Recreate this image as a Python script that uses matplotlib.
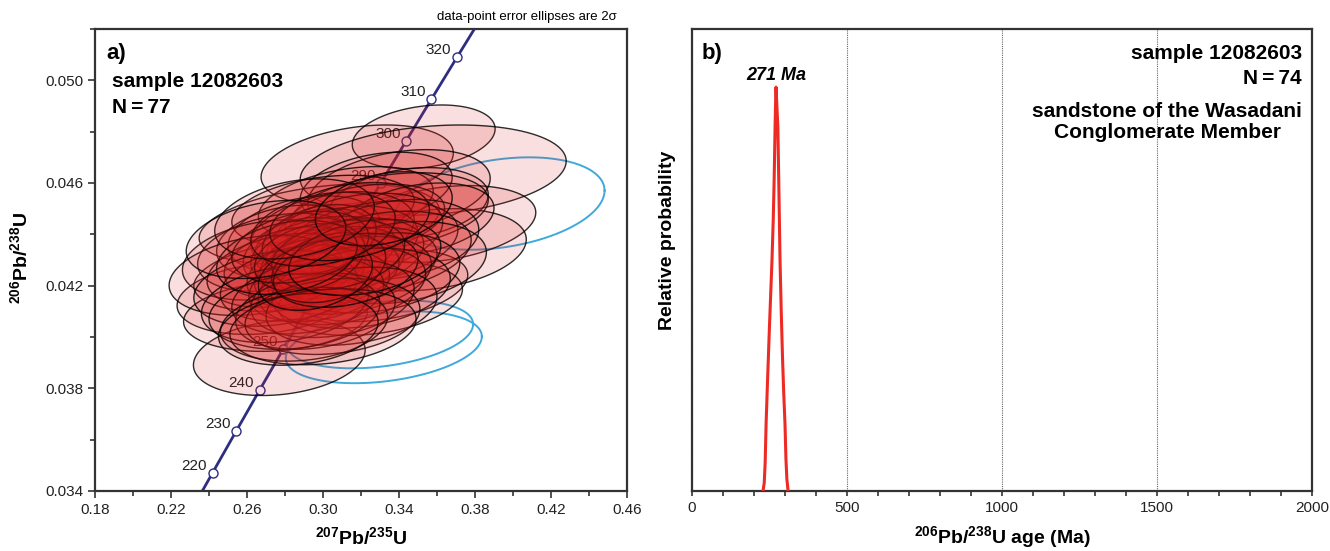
import numpy as np
import matplotlib
matplotlib.use("Agg")
import matplotlib.pyplot as plt
from matplotlib.ticker import MultipleLocator

plt.rcParams["font.family"] = ["Liberation Sans", "DejaVu Sans"]
plt.rcParams["mathtext.fontset"] = "custom"
plt.rcParams["mathtext.rm"] = "Liberation Sans"
plt.rcParams["mathtext.bf"] = "Liberation Sans:bold"
plt.rcParams["mathtext.it"] = "Liberation Sans:italic"

# concordia (age in Ma, 207Pb/235U, 206Pb/238U)
conc_age = [210, 220, 230, 240, 250, 260, 270, 280, 290, 300, 310, 320, 330]
conc_x = [0.22976, 0.24193, 0.25422, 0.26664, 0.27917, 0.29183, 0.30462,
          0.31753, 0.33057, 0.34374, 0.35704, 0.37047, 0.38403]
conc_y = [0.033113, 0.034717, 0.036323, 0.037932, 0.039543, 0.041157, 0.042773,
          0.044392, 0.046013, 0.047637, 0.049263, 0.050892, 0.052524]

# concordant analyses (2 sigma ellipses drawn from 1 sigma errors)
red_x = [0.318, 0.353, 0.358, 0.277, 0.298, 0.269, 0.275, 0.283, 0.362, 0.356,
         0.330, 0.325, 0.340, 0.328, 0.312, 0.345, 0.335, 0.300, 0.322, 0.350,
         0.290, 0.305, 0.318, 0.282, 0.296, 0.310, 0.325, 0.338, 0.276, 0.288,
         0.300, 0.313, 0.330, 0.270, 0.284, 0.295, 0.306, 0.318, 0.340, 0.279,
         0.291, 0.302, 0.314, 0.327, 0.265, 0.286, 0.298, 0.310, 0.275, 0.320,
         0.292, 0.305, 0.280, 0.315, 0.296, 0.285, 0.305, 0.290, 0.300, 0.287,
         0.298, 0.308, 0.293, 0.303, 0.288, 0.312, 0.296, 0.281, 0.322, 0.300,
         0.314, 0.285, 0.270, 0.332]
red_y = [0.0467, 0.0478, 0.0465, 0.0392, 0.0444, 0.0415, 0.0408, 0.0424, 0.0444, 0.0434,
         0.0420, 0.0415, 0.0457, 0.0458, 0.0452, 0.0452, 0.0449, 0.0449, 0.0446, 0.0446,
         0.0440, 0.0441, 0.0440, 0.0437, 0.0436, 0.0436, 0.0437, 0.0438, 0.0433, 0.0433,
         0.0433, 0.0432, 0.0433, 0.0430, 0.0429, 0.0429, 0.0429, 0.0428, 0.0429, 0.0426,
         0.0425, 0.0425, 0.0424, 0.0425, 0.0424, 0.0421, 0.0420, 0.0420, 0.0419, 0.0419,
         0.0416, 0.0415, 0.0413, 0.0412, 0.0410, 0.0410, 0.0408, 0.0405, 0.0404, 0.0403,
         0.0438, 0.0432, 0.0431, 0.0427, 0.0435, 0.0426, 0.0424, 0.0431, 0.0431, 0.0442,
         0.0445, 0.0446, 0.0438, 0.0450]
red_sx = [0.0253, 0.0188, 0.0350, 0.0226, 0.0316, 0.0229, 0.0242, 0.0255, 0.0250, 0.0255,
          0.0231, 0.0242, 0.0240, 0.0200, 0.0230, 0.0210, 0.0260, 0.0240, 0.0210, 0.0200,
          0.0200, 0.0215, 0.0225, 0.0190, 0.0160, 0.0200, 0.0230, 0.0220, 0.0210, 0.0150,
          0.0190, 0.0200, 0.0240, 0.0220, 0.0180, 0.0140, 0.0185, 0.0210, 0.0230, 0.0200,
          0.0155, 0.0190, 0.0215, 0.0225, 0.0230, 0.0200, 0.0185, 0.0220, 0.0215, 0.0235,
          0.0200, 0.0215, 0.0220, 0.0225, 0.0210, 0.0225, 0.0230, 0.0220, 0.0245, 0.0210,
          0.0150, 0.0175, 0.0145, 0.0150, 0.0180, 0.0190, 0.0150, 0.0185, 0.0200, 0.0190,
          0.0210, 0.0210, 0.0210, 0.0180]
red_sy = [0.00078, 0.00062, 0.00088, 0.00074, 0.00078, 0.00070, 0.00068, 0.00070, 0.00075, 0.00080,
          0.00070, 0.00072, 0.00080, 0.00070, 0.00072, 0.00070, 0.00075, 0.00070, 0.00068, 0.00070,
          0.00075, 0.00078, 0.00080, 0.00072, 0.00070, 0.00075, 0.00080, 0.00078, 0.00076, 0.00068,
          0.00070, 0.00072, 0.00080, 0.00078, 0.00070, 0.00066, 0.00070, 0.00074, 0.00080, 0.00072,
          0.00068, 0.00070, 0.00076, 0.00078, 0.00078, 0.00074, 0.00070, 0.00076, 0.00074, 0.00078,
          0.00074, 0.00076, 0.00076, 0.00076, 0.00074, 0.00074, 0.00074, 0.00072, 0.00074, 0.00070,
          0.00068, 0.00068, 0.00066, 0.00068, 0.00070, 0.00072, 0.00068, 0.00072, 0.00074, 0.00072,
          0.00076, 0.00078, 0.00076, 0.00072]
red_rho = [0.30, 0.25, 0.20, 0.20, 0.35, 0.20, 0.15, 0.30, 0.30, 0.25,
           0.30, 0.25, 0.30, 0.30, 0.35, 0.25, 0.30, 0.30, 0.30, 0.30,
           0.30, 0.30, 0.30, 0.25, 0.30, 0.30, 0.30, 0.25, 0.30, 0.30,
           0.30, 0.30, 0.30, 0.25, 0.30, 0.30, 0.30, 0.30, 0.25, 0.30,
           0.30, 0.30, 0.30, 0.25, 0.25, 0.30, 0.30, 0.30, 0.25, 0.25,
           0.30, 0.25, 0.25, 0.25, 0.25, 0.20, 0.20, 0.20, 0.20, 0.20,
           0.30, 0.30, 0.30, 0.30, 0.30, 0.30, 0.30, 0.30, 0.30, 0.30,
           0.30, 0.30, 0.30, 0.30]

# rejected (discordant) analyses
blue_x = [0.393, 0.330, 0.332]
blue_y = [0.0452, 0.0401, 0.0396]
blue_sx = [0.0276, 0.0245, 0.0258]
blue_sy = [0.00090, 0.00066, 0.00070]
blue_rho = [0.28, 0.30, 0.30]

# probability density plot (age in Ma, relative probability)
pdp_age = [229, 233, 236, 239, 244, 250, 254, 258, 262, 265, 268, 270, 271,
           272, 274, 277, 280, 284, 288, 292, 296, 300, 303, 306, 310]
pdp_prob = [0.0, 0.02, 0.07, 0.166, 0.28, 0.41, 0.49, 0.571, 0.67, 0.77, 0.901, 0.975, 1.0,
            0.985, 0.95, 0.901, 0.76, 0.571, 0.44, 0.33, 0.24, 0.166, 0.08, 0.03, 0.0]

x_ticks = [0.18, 0.22, 0.26, 0.30, 0.34, 0.38, 0.42, 0.46]
y_ticks = [0.034, 0.038, 0.042, 0.046, 0.050]
age_ticks = [0, 500, 1000, 1500, 2000]

NAVY = "#2e2e80"
FRAME = "#333333"


def ellipse_xy(cx, cy, sx, sy, rho, n=120):
    t = np.linspace(0, 2 * np.pi, n)
    ex = cx + 2 * sx * np.cos(t)
    ey = cy + 2 * sy * (rho * np.cos(t) + np.sqrt(1 - rho ** 2) * np.sin(t))
    return ex, ey


fig = plt.figure(figsize=(13.3, 5.51), dpi=100)
ax1 = fig.add_axes([95 / 1330, 60 / 551, 532 / 1330, 462 / 551])
ax2 = fig.add_axes([692 / 1330, 60 / 551, 620 / 1330, 462 / 551])

# ---- a) concordia diagram
ax1.plot(conc_x, conc_y, color=NAVY, lw=2, zorder=1)
ax1.plot(conc_x[1:-1], conc_y[1:-1], "o", ms=6.5, mfc="white", mec=NAVY, mew=1, zorder=1.5)
for age, cx, cy in zip(conc_age[1:-1], conc_x[1:-1], conc_y[1:-1]):
    ax1.annotate(str(age), (cx, cy), xytext=(-4, 0), textcoords="offset points",
                 ha="right", va="bottom", fontsize=11, color="#222222", zorder=1.5)

for cx, cy, sx, sy, r in zip(blue_x, blue_y, blue_sx, blue_sy, blue_rho):
    ex, ey = ellipse_xy(cx, cy, sx, sy, r)
    ax1.plot(ex, ey, color="#3fa9dc", lw=1.4, zorder=2)

for cx, cy, sx, sy, r in zip(red_x, red_y, red_sx, red_sy, red_rho):
    ex, ey = ellipse_xy(cx, cy, sx, sy, r)
    ax1.fill(ex, ey, facecolor=(0.84, 0.12, 0.12, 0.14),
             edgecolor=(0, 0, 0, 0.82), lw=1.0, zorder=3)

ax1.set_xlim(0.18, 0.46)
ax1.set_ylim(0.034, 0.052)
ax1.set_xticks(x_ticks)
ax1.set_xticklabels([f"{v:.2f}" for v in x_ticks])
ax1.set_yticks(y_ticks)
ax1.set_yticklabels([f"{v:.3f}" for v in y_ticks])
ax1.xaxis.set_minor_locator(MultipleLocator(0.02))
ax1.yaxis.set_minor_locator(MultipleLocator(0.002))
ax1.tick_params(which="major", direction="out", length=5, width=1.2, labelsize=11,
                color=FRAME, labelcolor="#222222")
ax1.tick_params(which="minor", direction="out", length=3.5, width=1.2, color=FRAME)
ax1.tick_params(top=False, right=False, which="both")

ax1.text(0.021, 0.948, "a)", transform=ax1.transAxes, fontsize=16, fontweight="bold",
         ha="left", va="center", zorder=5)
ax1.text(0.032, 0.887, "sample 12082603", transform=ax1.transAxes, fontsize=15,
         fontweight="bold", ha="left", va="center", zorder=5)
ax1.text(0.032, 0.831, "N\u2009=\u200977", transform=ax1.transAxes, fontsize=15,
         fontweight="bold", ha="left", va="center", zorder=5)

# ---- b) probability density plot
ax2.plot(pdp_age, pdp_prob, color="#ee2a24", lw=2.2, zorder=3)
ax2.set_xlim(0, 2000)
ax2.set_ylim(0, 1.144)
ax2.set_xticks(age_ticks)
ax2.set_xticklabels([str(v) for v in age_ticks])
ax2.xaxis.set_minor_locator(MultipleLocator(100))
ax2.set_yticks([])
ax2.tick_params(axis="x", which="both", direction="out", length=3.5, width=1.2,
                labelsize=11, color=FRAME, labelcolor="#222222")
ax2.grid(axis="x", which="major", color="#666666", lw=0.8, ls=(0, (1, 1)))

ax2.text(0.016, 0.948, "b)", transform=ax2.transAxes, fontsize=16, fontweight="bold",
         ha="left", va="center")
ax2.text(271, 0.900, "271 Ma", transform=ax2.get_xaxis_transform(), fontsize=13,
         fontweight="bold", fontstyle="italic", ha="center", va="center")
ax2.text(0.984, 0.948, "sample 12082603", transform=ax2.transAxes, fontsize=15,
         fontweight="bold", ha="right", va="center")
ax2.text(0.984, 0.892, "N\u2009=\u200974", transform=ax2.transAxes, fontsize=15,
         fontweight="bold", ha="right", va="center")
ax2.text(0.984, 0.798, "sandstone of the Wasadani\nConglomerate Member",
         transform=ax2.transAxes, fontsize=15, fontweight="bold", ha="right",
         va="center", multialignment="center", linespacing=1.15)

for ax in (ax1, ax2):
    for sp in ax.spines.values():
        sp.set_linewidth(1.6)
        sp.set_color(FRAME)

# axis titles
fig.text(361 / 1330, 14 / 551, r"$^{\mathbf{207}}\mathbf{Pb/}^{\mathbf{235}}\mathbf{U}$",
         fontsize=14, ha="center", va="center")
fig.text(20 / 1330, 1 - 258 / 551, r"$^{\mathbf{206}}\mathbf{Pb/}^{\mathbf{238}}\mathbf{U}$",
         fontsize=14, ha="center", va="center", rotation=90)
fig.text(1002 / 1330, 14 / 551,
         r"$^{\mathbf{206}}\mathbf{Pb/}^{\mathbf{238}}\mathbf{U\ age\ (Ma)}$",
         fontsize=14, ha="center", va="center")
fig.text(667 / 1330, 1 - 240 / 551, "Relative probability", fontsize=14,
         fontweight="bold", ha="center", va="center", rotation=90)
fig.text(617 / 1330, 1 - 17 / 551, "data-point error ellipses are 2\u03c3",
         fontsize=9.5, ha="right", va="center")

fig.savefig("out.png", dpi=100)
